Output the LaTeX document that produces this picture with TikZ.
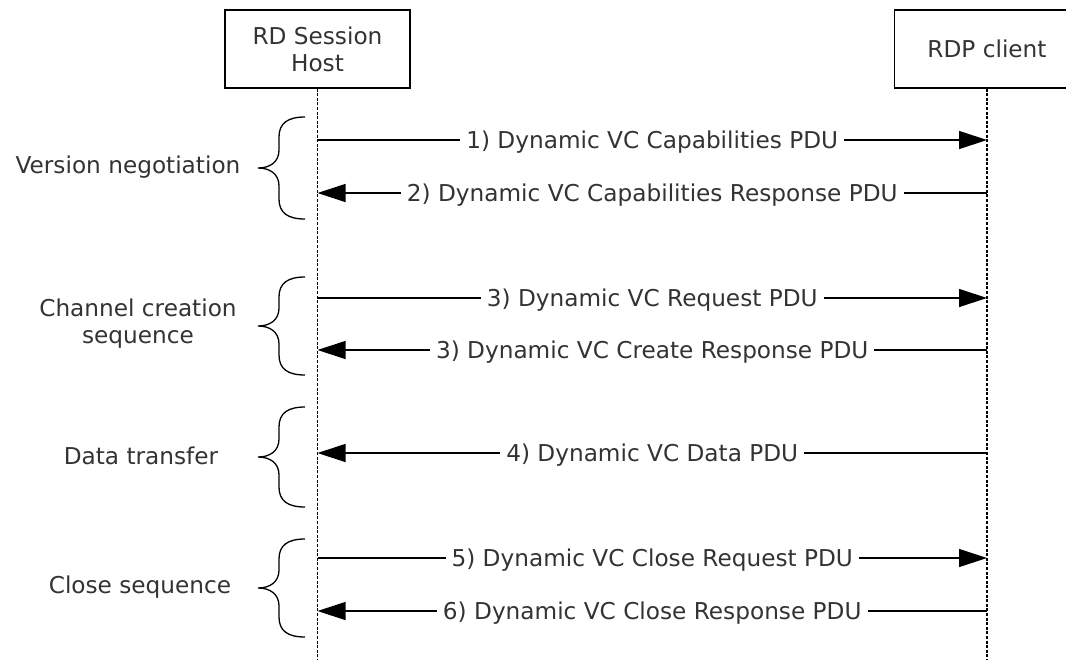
\documentclass[tikz,border=0pt]{standalone}
\usepackage{fontspec}
\setmainfont{DejaVu Sans}
\usetikzlibrary{arrows.meta}

% curly brace on the left of the host lifeline: top y, bottom y
\newcommand{\sidebrace}[2]{%
  \draw[brace] (305,#1) .. controls (288,#1) and (279,#1+6) .. (279,#1+20)
    -- (279,{(#1+#2)/2-18}) .. controls (279,{(#1+#2)/2-6}) and (270,{(#1+#2)/2}) .. (258,{(#1+#2)/2})
    .. controls (270,{(#1+#2)/2}) and (279,{(#1+#2)/2+6}) .. (279,{(#1+#2)/2+18})
    -- (279,#2-20) .. controls (279,#2-6) and (288,#2) .. (305,#2);}

\begin{document}
\begin{tikzpicture}[x=0.5pt,y=-0.5pt,
		every node/.style={font=\fontsize{11.6pt}{13.5pt}\selectfont, text=black!80},
		actor/.style={draw=black, line width=0.6pt, minimum width=92.5pt, minimum height=39pt, align=center},
		lifeline/.style={line width=0.8pt, dash pattern=on 1.5pt off 0.8pt},
		msg/.style={line width=0.6pt, -{Triangle[length=14pt,width=9pt]}},
		msglabel/.style={fill=white, inner xsep=3pt, inner ysep=1pt, yshift=-1.2pt},
		brace/.style={line width=0.65pt}]
		\useasboundingbox (0,0) rectangle (1066,660);
		\clip (0,0) rectangle (1066,660);

		% the two parties
		\node[actor] (host) at (317.5,49) {RD Session\\Host};
		\node[actor] (client) at (987,49) {RDP client};
		\coordinate (hostend) at (317.5,660);
		\coordinate (clientend) at (987,660);
		\draw[lifeline] (host.south) -- (hostend);
		\draw[lifeline] (client.south) -- (clientend);

		% message rows
		\foreach \k/\y in {1/140,2/193,3/298,4/350,5/453,6/558,7/611} {
			\coordinate (h\k) at (317.5,\y);
			\coordinate (c\k) at (987,\y);
		}
		\draw[msg] (h1) -- node[msglabel] (m1) {1) Dynamic VC Capabilities PDU} (c1);
		\draw[msg] (c2) -- node[msglabel] (m2) {2) Dynamic VC Capabilities Response PDU} (h2);
		\draw[msg] (h3) -- node[msglabel] (m3) {3) Dynamic VC Request PDU} (c3);
		\draw[msg] (c4) -- node[msglabel] (m4) {3) Dynamic VC Create Response PDU} (h4);
		\draw[msg] (c5) -- node[msglabel] (m5) {4) Dynamic VC Data PDU} (h5);
		\draw[msg] (h6) -- node[msglabel] (m6) {5) Dynamic VC Close Request PDU} (c6);
		\draw[msg] (c7) -- node[msglabel] (m7) {6) Dynamic VC Close Response PDU} (h7);

		% phases
		\node (version) at (128,167) {Version negotiation};
		\node[align=center] (creation) at (138,324) {Channel creation\\sequence};
		\node (transfer) at (141,456) {Data transfer};
		\node (closing) at (140,587) {Close sequence};
		\sidebrace{117}{219}
		\sidebrace{277}{375}
		\sidebrace{407}{507}
		\sidebrace{539}{637}
	\end{tikzpicture}
\end{document}
